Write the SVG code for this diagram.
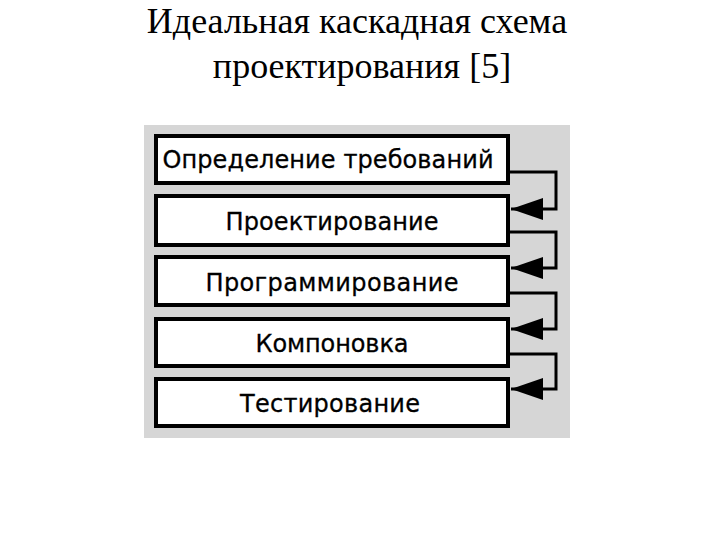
<svg xmlns="http://www.w3.org/2000/svg" width="720" height="540" viewBox="0 0 720 540">
<style>
.title{font-family:"Liberation Serif","Times New Roman",serif;font-size:36px;fill:#000;text-anchor:middle}
.box{fill:#fff;stroke:#000;stroke-width:4}
.lbl{font-family:"DejaVu Sans","Liberation Sans",sans-serif;font-size:24px;fill:#000;stroke:#000;stroke-width:0.3;text-anchor:middle}
.conn{fill:none;stroke:#000;stroke-width:3}
</style>
<defs>
<marker id="arr" markerUnits="userSpaceOnUse" viewBox="-32 -12 34 24" refX="0" refY="0" markerWidth="34" markerHeight="24" orient="auto">
<path d="M0,0 L-32,-11 L-32,11 Z" fill="#000"/>
</marker>
</defs>
<rect width="720" height="540" fill="#fff"/>
<text class="title" x="357" y="33">Идеальная каскадная схема</text>
<text class="title" x="362" y="78">проектирования [5]</text>
<rect x="144" y="125" width="426" height="313" fill="#d6d6d6"/>
<g id="n1"><rect class="box" x="156" y="136" width="352" height="47"/><text class="lbl" x="328" y="168" textLength="331" lengthAdjust="spacing">Определение требований</text></g>
<g id="n2"><rect class="box" x="156" y="196" width="352" height="49"/><text class="lbl" x="332" y="230" textLength="213" lengthAdjust="spacing">Проектирование</text></g>
<g id="n3"><rect class="box" x="156" y="257" width="352" height="48"/><text class="lbl" x="332" y="291" textLength="253" lengthAdjust="spacing">Программирование</text></g>
<g id="n4"><rect class="box" x="156" y="319" width="352" height="47"/><text class="lbl" x="332" y="352" textLength="153" lengthAdjust="spacing">Компоновка</text></g>
<g id="n5"><rect class="box" x="156" y="379" width="352" height="47"/><text class="lbl" x="330" y="412" textLength="180" lengthAdjust="spacing">Тестирование</text></g>
<g id="connectors">
<path class="conn" d="M510,172 H556 V209 H511" marker-end="url(#arr)"/>
<path class="conn" d="M510,232 H556 V268 H511" marker-end="url(#arr)"/>
<path class="conn" d="M510,293 H556 V329 H511" marker-end="url(#arr)"/>
<path class="conn" d="M510,354 H556 V389 H511" marker-end="url(#arr)"/>
</g>
</svg>
